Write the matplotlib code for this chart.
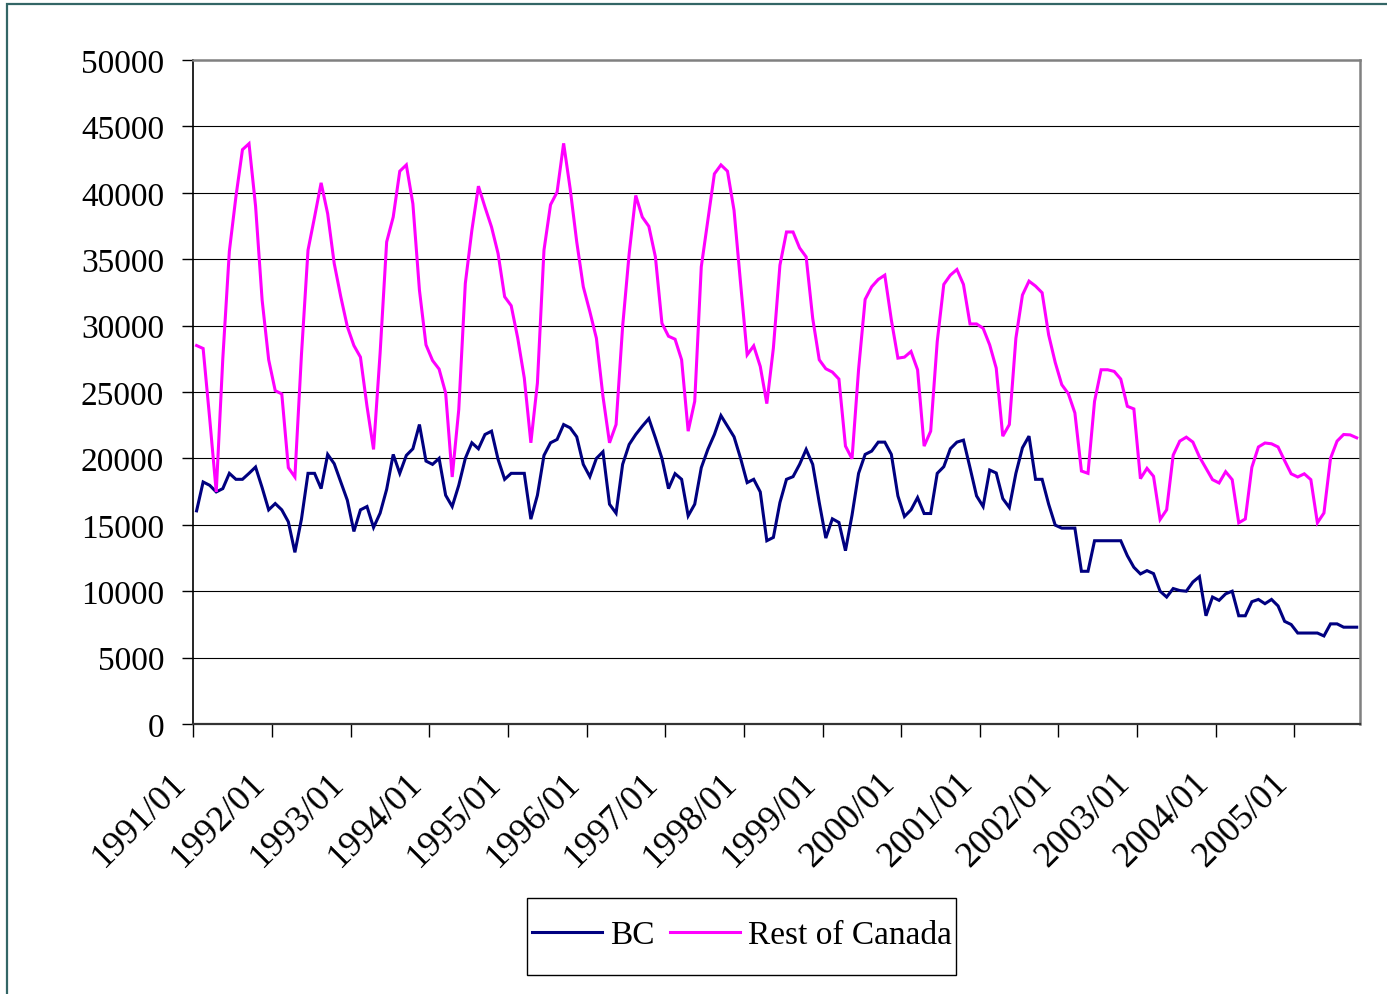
import matplotlib
matplotlib.use("Agg")
import matplotlib.pyplot as plt
from matplotlib.patches import Rectangle
from matplotlib.transforms import ScaledTranslation
import numpy as np

# Monthly series, 1991/01 - 2005/10
bc = [16050, 18225, 17975, 17475, 17725, 18875, 18425, 18425, 18875, 19350, 17800, 16125,
      16600, 16125, 15225, 12925, 15425, 18875, 18875, 17725, 20300, 19600, 18225, 16850,
      14500, 16125, 16375, 14800, 15875, 17675, 20300, 18875, 20225, 20725, 22550, 19800,
      19550, 20000, 17225, 16375, 17975, 20000, 21175, 20725, 21800, 22050, 19925, 18425,
      18875, 18875, 18875, 15425, 17225, 20225, 21175, 21425, 22550, 22300, 21625, 19550,
      18625, 20000, 20500, 16550, 15875, 19550, 21050, 21800, 22425, 23000, 21550, 20000,
      17725, 18850, 18425, 15675, 16550, 19300, 20675, 21800, 23225, 22425, 21625, 20000,
      18175, 18425, 17475, 13800, 14050, 16675, 18425, 18625, 19550, 20675, 19550, 16675,
      14000, 15450, 15175, 13050, 15725, 18875, 20300, 20550, 21225, 21225, 20300, 17175,
      15625, 16125, 17050, 15850, 15850, 18875, 19375, 20725, 21225, 21375, 19300, 17175,
      16375, 19125, 18900, 16975, 16300, 18875, 20800, 21675, 18425, 18425, 16550, 14975,
      14750, 14750, 14750, 11500, 11500, 13800, 13800, 13800, 13800, 13800, 12675, 11800,
      11300, 11550, 11325, 10000, 9560, 10200, 10050, 10000, 10690, 11100, 8150, 9560,
      9310, 9800, 10000, 8150, 8150, 9210, 9380, 9060, 9380, 8890, 7730, 7490,
      6850, 6850, 6850, 6850, 6630, 7540, 7540, 7290, 7290, 7290]

rest_of_canada = [28500, 28275, 23000, 17475, 27500, 35600, 39700, 43250, 43700, 39000, 31925, 27425,
                  25100, 24850, 19300, 18600, 27800, 35675, 38175, 40750, 38425, 34675, 32175, 29925,
                  28500, 27625, 23925, 20675, 27925, 36300, 38175, 41625, 42100, 39175, 32675, 28550,
                  27375, 26725, 24925, 18600, 23675, 33175, 37175, 40500, 38925, 37425, 35425, 32175,
                  31500, 29050, 26050, 21175, 25675, 35675, 39100, 40050, 43725, 40300, 36300, 32925,
                  31050, 29050, 24675, 21175, 22550, 29925, 35425, 39800, 38175, 37475, 35175, 30175,
                  29200, 28975, 27425, 22050, 24300, 34425, 37925, 41425, 42100, 41625, 38675, 33175,
                  27800, 28475, 26925, 24125, 28300, 34550, 37050, 37050, 35850, 35175, 30550, 27425,
                  26750, 26500, 25975, 20925, 19975, 26700, 31975, 32925, 33475, 33800, 30425, 27550,
                  27625, 28050, 26675, 20925, 22050, 28800, 33100, 33800, 34225, 33100, 30125, 30125,
                  29800, 28550, 26800, 21675, 22550, 29050, 32300, 33350, 32975, 32475, 29300, 27225,
                  25550, 24875, 23425, 19050, 18875, 24300, 26675, 26675, 26550, 25975, 23925, 23725,
                  18475, 19250, 18650, 15400, 16130, 20250, 21300, 21600, 21230, 20120, 19260, 18400,
                  18150, 19000, 18400, 15150, 15440, 19330, 20860, 21160, 21100, 20860, 19830, 18840,
                  18600, 18840, 18400, 15150, 15890, 20000, 21300, 21800, 21770, 21550]

year_labels = ["1991/01", "1992/01", "1993/01", "1994/01", "1995/01", "1996/01", "1997/01",
               "1998/01", "1999/01", "2000/01", "2001/01", "2002/01", "2003/01", "2004/01",
               "2005/01"]
y_ticks = [0, 5000, 10000, 15000, 20000, 25000, 30000, 35000, 40000, 45000, 50000]

plt.rcParams["font.family"] = ["Liberation Serif", "DejaVu Serif"]

W, H = 1387, 995
fig = plt.figure(figsize=(W / 100, H / 100), dpi=100)
fig.patch.set_facecolor("white")

# outer chart frame
fig.patches.append(Rectangle((7.3 / W, -0.05), 1.2, (995 - 5) / H + 0.05,
                             transform=fig.transFigure, fill=False,
                             edgecolor="#336666", linewidth=1.6))

left, right, top, bottom = 193.3, 1360.0, 61.0, 725.0
ax = fig.add_axes([left / W, (H - bottom) / H, (right - left) / W, (bottom - top) / H])

n = len(bc)
x = np.arange(n) + 0.5
ax.plot(x, bc, color="#000080", linewidth=2.2, label="BC", solid_joinstyle="miter")
ax.plot(x, rest_of_canada, color="#FF00FF", linewidth=2.2, label="Rest of Canada",
        solid_joinstyle="miter")

ax.set_xlim(0, n)
ax.set_ylim(0, 50000)
ax.set_yticks(y_ticks)
ax.set_yticklabels([str(v) for v in y_ticks], fontsize=24)
ax.set_xticks(np.arange(len(year_labels)) * 12)
ax.set_xticklabels(year_labels, fontsize=26, rotation=45, ha="right")
shift = ScaledTranslation(5 / 100, 0, fig.dpi_scale_trans)
for lab in ax.get_xticklabels():
    lab.set_transform(lab.get_transform() + shift)

for yv in y_ticks[1:-1]:
    ax.axhline(yv, color="#000000", linewidth=0.8, zorder=0)

ax.tick_params(axis="y", direction="out", length=8, width=1, pad=13, colors="black")
ax.tick_params(axis="x", direction="out", length=9, width=1, pad=21, colors="black")

ax.spines["left"].set_color("black")
ax.spines["left"].set_linewidth(1.2)
ax.spines["bottom"].set_color("#333333")
ax.spines["bottom"].set_linewidth(1.6)
ax.spines["top"].set_color("#808080")
ax.spines["top"].set_linewidth(1.8)
ax.spines["right"].set_color("#808080")
ax.spines["right"].set_linewidth(1.8)

# legend box
fig.patches.append(Rectangle((527 / W, (H - 976) / H), (956 - 527) / W, (976 - 899) / H,
                             transform=fig.transFigure, fill=False,
                             edgecolor="black", linewidth=1.0))
leg = fig.legend(loc="center", bbox_to_anchor=(742 / W, (H - 936) / H),
                 ncol=2, fontsize=24, frameon=False,
                 handlelength=2.1, handletextpad=0.25, columnspacing=0.45,
                 borderpad=0, borderaxespad=0)

fig.savefig("out.png", dpi=100, facecolor="white")
